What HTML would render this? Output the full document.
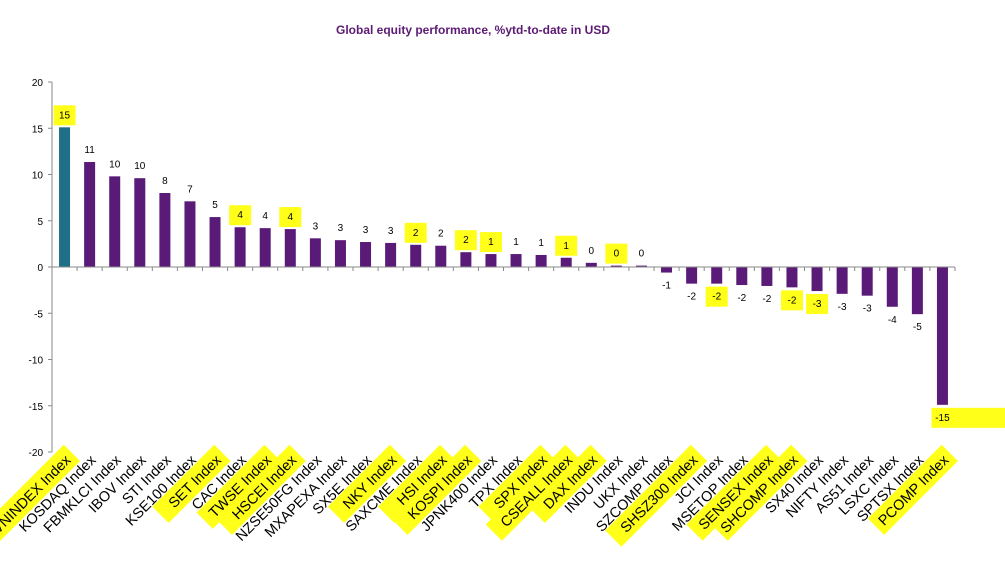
<!DOCTYPE html>
<html><head><meta charset="utf-8"><style>
html,body{margin:0;padding:0;background:#fff;}
svg{display:block;font-family:"Liberation Sans",Arial,sans-serif;}
</style></head><body>
<svg id="chart" width="1005" height="566" viewBox="0 0 1005 566" xmlns="http://www.w3.org/2000/svg">
<text x="473" y="34" text-anchor="middle" font-size="12" font-weight="bold" fill="#5b1a74">Global equity performance, %ytd-to-date in USD</text>
<g id="hl"></g><g id="bars"></g><g id="axes"></g><g id="labels"></g>
</svg>
<script>
const categories = ["VNINDEX Index","KOSDAQ Index","FBMKLCI Index","IBOV Index","STI Index","KSE100 Index","SET Index","CAC Index","TWSE Index","HSCEI Index","NZSE50FG Index","MXAPEXA Index","SX5E Index","NKY Index","SAXCME Index","HSI Index","KOSPI Index","JPNK400 Index","TPX Index","SPX Index","CSEALL Index","DAX Index","INDU Index","UKX Index","SZCOMP Index","SHSZ300 Index","JCI Index","MSETOP Index","SENSEX Index","SHCOMP Index","SX40 Index","NIFTY Index","AS51 Index","LSXC Index","SPTSX Index","PCOMP Index"];
const values = [15.1,11.35,9.8,9.6,8.0,7.1,5.4,4.3,4.2,4.1,3.1,2.9,2.7,2.6,2.4,2.3,1.6,1.4,1.4,1.3,1.0,0.45,0.15,0.15,-0.6,-1.8,-1.8,-1.95,-2.05,-2.2,-2.6,-2.9,-3.1,-4.3,-5.1,-14.9];
const yTicks = [20,15,10,5,0,-5,-10,-15,-20];
const highlightedCats = ["VNINDEX Index","SET Index","TWSE Index","HSCEI Index","NKY Index","HSI Index","KOSPI Index","SPX Index","CSEALL Index","DAX Index","SHSZ300 Index","SENSEX Index","SHCOMP Index","PCOMP Index"];
const highlightedVals = [0,7,9,14,16,17,20,22,26,29,30,35];

const NS="http://www.w3.org/2000/svg";
const x0=52,x1=955,yTop=82,yBot=452;
const step=(x1-x0)/categories.length;
const y=v=>267-v*9.25;
const cx=i=>x0+step*(i+0.5);
function mk(tag,attrs,parent,txt){const e=document.createElementNS(NS,tag);for(const k in attrs)e.setAttribute(k,attrs[k]);if(txt!==undefined)e.textContent=txt;document.getElementById(parent).appendChild(e);return e;}
let ax=mk('line',{x1:x0,x2:x0,y1:yTop,y2:yBot,stroke:'#888'},'axes');


yTicks.forEach(t=>{
  mk('line',{x1:x0-4,x2:x0,y1:y(t),y2:y(t),stroke:'#888'},'axes');
  const tl=mk('text',{x:x0-9,y:y(t)+4,'text-anchor':'end','font-size':10,fill:'#000'},'axes',String(t));
  
  
});
let zx=mk('line',{x1:x0,x2:x1,y1:y(0),y2:y(0),stroke:'#888'},'axes');


for(let i=0;i<=categories.length;i++)mk('line',{x1:x0+step*i,x2:x0+step*i,y1:y(0),y2:y(0)+4,stroke:'#888'},'axes');
categories.forEach((c,i)=>{
  const v=values[i],bw=11;
  const b=mk('rect',{x:cx(i)-bw/2,y:Math.min(y(v),y(0)),width:bw,height:Math.abs(y(v)-y(0)),fill:i===0?'#1f6f86':'#5a1b78'},'bars');
  
  
  const vy=v>=0?y(v)-9:y(v)+16;
  if(highlightedVals.includes(i)){
    const w=i===35?80:22;
    const h=mk('rect',{x:cx(i)-11,y:vy-13,width:w,height:20,fill:'#ffff1a'},'hl');
    
    
  }
  const vl=mk('text',{x:cx(i),y:vy,'text-anchor':'middle','font-size':10,fill:'#000'},'labels',String(Math.round(v)));
  
  
  const lx=cx(i)+7,ly=461;
  if(highlightedCats.includes(c)){
    const len=c.length*8.4+6;
    const h=mk('rect',{x:lx-len,y:ly-17,width:len+6,height:23,fill:'#ffff1a',transform:`rotate(-45 ${lx} ${ly})`},'hl');
    
    
  }
  const cl=mk('text',{x:lx,y:ly,'text-anchor':'end','font-size':14.5,fill:'#000',transform:`rotate(-45 ${lx} ${ly})`},'labels',c);
  
  
});
</script>
</body></html>
